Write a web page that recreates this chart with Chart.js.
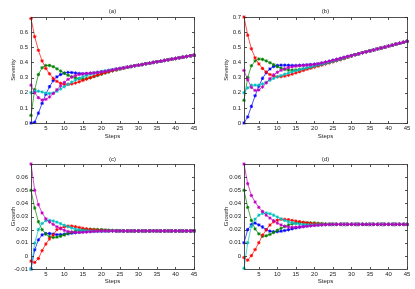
<!DOCTYPE html>
<html><head><meta charset="utf-8">
<script src="https://cdn.jsdelivr.net/npm/chart.js@4/dist/chart.umd.min.js"></script>
<style>
html,body{margin:0;padding:0;background:#fff;width:415px;height:289px;overflow:hidden}
canvas{position:absolute;display:block}
</style></head><body>
<canvas id="ca" width="207" height="145" style="left:0;top:0"></canvas>
<canvas id="cb" width="202" height="145" style="left:213px;top:0"></canvas>
<canvas id="cc" width="207" height="142" style="left:0;top:147px"></canvas>
<canvas id="cd" width="202" height="142" style="left:213px;top:147px"></canvas>
<script>
const steps = [1,2,3,4,5,6,7,8,9,10,11,12,13,14,15,16,17,18,19,20,21,22,23,24,25,26,27,28,29,30,31,32,33,34,35,36,37,38,39,40,41,42,43,44,45];
const xTicks = [5,10,15,20,25,30,35,40,45];
const yTicksA = [0,0.1,0.2,0.3,0.4,0.5,0.6];
const yTicksB = [0,0.1,0.2,0.3,0.4,0.5,0.6,0.7];
const yTicksC = [-0.01,0,0.01,0.02,0.03,0.04,0.05,0.06];
const yTicksD = [0,0.01,0.02,0.03,0.04,0.05,0.06];

// Panel (a) Severity
const redA = [0.69,0.57,0.48,0.41,0.36,0.325,0.295,0.275,0.262,0.256,
  0.255,0.258,0.264,0.272,0.281,0.29,0.299,0.308,0.317,0.325,
  0.332,0.339,0.346,0.352,0.358,0.363,0.369,0.373,0.378,0.382,
  0.386,0.391,0.395,0.4,0.404,0.408,0.413,0.417,0.422,0.426,
  0.43,0.435,0.439,0.444,0.448];
const greenA = [0.05,0.22,0.32,0.365,0.38,0.38,0.372,0.358,0.343,0.328,
  0.315,0.305,0.297,0.292,0.29,0.293,0.299,0.306,0.314,0.322,
  0.33,0.337,0.344,0.35,0.356,0.362,0.368,0.373,0.378,0.382,
  0.386,0.391,0.395,0.4,0.404,0.408,0.413,0.417,0.422,0.426,
  0.43,0.435,0.439,0.444,0.448];
const blueA = [0,0.005,0.065,0.13,0.19,0.24,0.28,0.305,0.32,0.33,
  0.334,0.333,0.33,0.327,0.325,0.326,0.328,0.33,0.333,0.337,
  0.341,0.346,0.351,0.356,0.36,0.364,0.369,0.373,0.378,0.382,
  0.386,0.391,0.395,0.4,0.404,0.408,0.413,0.417,0.422,0.426,
  0.43,0.435,0.439,0.444,0.448];
const cyanA = [0.2,0.21,0.21,0.205,0.198,0.195,0.198,0.21,0.225,0.24,
  0.255,0.27,0.283,0.295,0.305,0.314,0.322,0.329,0.335,0.34,
  0.344,0.348,0.352,0.356,0.36,0.364,0.369,0.373,0.378,0.382,
  0.386,0.391,0.395,0.4,0.404,0.408,0.413,0.417,0.422,0.426,
  0.43,0.435,0.439,0.444,0.448];
const magentaA = [0.25,0.2,0.167,0.152,0.156,0.172,0.195,0.22,0.245,0.268,
  0.288,0.303,0.313,0.32,0.324,0.327,0.329,0.331,0.334,0.337,
  0.341,0.346,0.351,0.356,0.36,0.364,0.369,0.373,0.378,0.382,
  0.386,0.391,0.395,0.4,0.404,0.408,0.413,0.417,0.422,0.426,
  0.43,0.435,0.439,0.444,0.448];

// Panel (b) Severity
const redB = [0.7,0.58,0.49,0.43,0.39,0.36,0.337,0.32,0.31,0.305,
  0.306,0.31,0.316,0.323,0.331,0.339,0.347,0.355,0.362,0.369,
  0.376,0.383,0.39,0.397,0.404,0.411,0.418,0.425,0.434,0.442,
  0.451,0.457,0.464,0.47,0.476,0.482,0.489,0.495,0.501,0.508,
  0.514,0.521,0.527,0.533,0.54];
const greenB = [0.15,0.3,0.378,0.41,0.423,0.42,0.41,0.398,0.385,0.372,
  0.362,0.354,0.35,0.349,0.35,0.353,0.357,0.362,0.368,0.374,
  0.38,0.386,0.392,0.399,0.406,0.413,0.42,0.427,0.436,0.444,
  0.451,0.457,0.464,0.47,0.476,0.482,0.489,0.495,0.501,0.508,
  0.514,0.521,0.527,0.533,0.54];
const blueB = [0,0.04,0.11,0.18,0.243,0.295,0.332,0.357,0.373,0.38,
  0.382,0.382,0.381,0.38,0.38,0.381,0.382,0.384,0.386,0.388,
  0.391,0.396,0.402,0.408,0.414,0.42,0.426,0.433,0.439,0.445,
  0.451,0.457,0.464,0.47,0.476,0.482,0.489,0.495,0.501,0.508,
  0.514,0.521,0.527,0.533,0.54];
const cyanB = [0.2,0.232,0.25,0.25,0.25,0.258,0.268,0.282,0.295,0.305,
  0.313,0.322,0.33,0.338,0.345,0.352,0.358,0.364,0.37,0.376,
  0.382,0.388,0.394,0.401,0.408,0.415,0.421,0.428,0.436,0.444,
  0.451,0.457,0.464,0.47,0.476,0.482,0.489,0.495,0.501,0.508,
  0.514,0.521,0.527,0.533,0.54];
const magentaB = [0.347,0.286,0.235,0.215,0.218,0.238,0.265,0.293,0.318,0.335,
  0.348,0.358,0.366,0.371,0.375,0.378,0.38,0.382,0.384,0.387,
  0.39,0.396,0.402,0.408,0.414,0.42,0.426,0.433,0.439,0.445,
  0.451,0.457,0.464,0.47,0.476,0.482,0.489,0.495,0.501,0.508,
  0.514,0.521,0.527,0.533,0.54];

// Panel (c) Growth
const redC = [-0.004,-0.005,-0.002,0.004,0.009,0.013,0.016,0.02,0.0212,0.0222,
  0.0227,0.0227,0.0222,0.0216,0.021,0.0205,0.0201,0.0198,0.0195,0.0193,
  0.0192,0.0191,0.019,0.019,0.019,0.019,0.019,0.019,0.019,0.019,
  0.019,0.019,0.019,0.019,0.019,0.019,0.019,0.019,0.019,0.019,
  0.019,0.019,0.019,0.019,0.019];
const greenC = [0.05,0.0365,0.026,0.02,0.0166,0.0145,0.014,0.0143,0.015,0.016,
  0.017,0.018,0.0188,0.0195,0.02,0.0202,0.0203,0.0202,0.0201,0.02,
  0.0198,0.0196,0.0194,0.0192,0.0191,0.019,0.019,0.019,0.019,0.019,
  0.019,0.019,0.019,0.019,0.019,0.019,0.019,0.019,0.019,0.019,
  0.019,0.019,0.019,0.019,0.019];
const blueC = [-0.01,0.0046,0.0122,0.016,0.017,0.017,0.0166,0.0162,0.0162,0.0165,
  0.0169,0.0173,0.0177,0.018,0.0183,0.0185,0.0187,0.0188,0.0189,0.019,
  0.019,0.019,0.019,0.019,0.019,0.019,0.019,0.019,0.019,0.019,
  0.019,0.019,0.019,0.019,0.019,0.019,0.019,0.019,0.019,0.019,
  0.019,0.019,0.019,0.019,0.019];
const cyanC = [-0.01,0.0097,0.02,0.0247,0.0268,0.027,0.0266,0.0257,0.0245,0.0233,
  0.0222,0.0212,0.0204,0.0198,0.0194,0.0191,0.0189,0.0188,0.0188,0.0188,
  0.0189,0.019,0.019,0.019,0.019,0.019,0.019,0.019,0.019,0.019,
  0.019,0.019,0.019,0.019,0.019,0.019,0.019,0.019,0.019,0.019,
  0.019,0.019,0.019,0.019,0.019];
const magentaC = [0.07,0.05,0.039,0.0327,0.0283,0.0258,0.024,0.0222,0.0207,0.0195,
  0.0186,0.0181,0.0179,0.0179,0.018,0.0182,0.0184,0.0186,0.0188,0.0189,
  0.019,0.019,0.019,0.019,0.019,0.019,0.019,0.019,0.019,0.019,
  0.019,0.019,0.019,0.019,0.019,0.019,0.019,0.019,0.019,0.019,
  0.019,0.019,0.019,0.019,0.019];

// Panel (d) Growth
const redD = [-0.0013,-0.0033,0.0002,0.0048,0.01,0.0158,0.0198,0.0235,0.026,0.0272,
  0.0278,0.0278,0.0275,0.027,0.0265,0.026,0.0255,0.0251,0.0248,0.0245,
  0.0243,0.0242,0.0241,0.024,0.024,0.024,0.024,0.024,0.024,0.024,
  0.024,0.024,0.024,0.024,0.024,0.024,0.024,0.024,0.024,0.024,
  0.024,0.024,0.024,0.024,0.024];
const greenD = [0.05,0.037,0.027,0.0205,0.0168,0.015,0.0153,0.0163,0.0178,0.0195,
  0.021,0.0224,0.0235,0.0244,0.025,0.0253,0.0254,0.0253,0.0251,0.025,
  0.0248,0.0246,0.0244,0.0242,0.0241,0.024,0.024,0.024,0.024,0.024,
  0.024,0.024,0.024,0.024,0.024,0.024,0.024,0.024,0.024,0.024,
  0.024,0.024,0.024,0.024,0.024];
const blueD = [0.01,0.02,0.0238,0.025,0.0236,0.022,0.02,0.0188,0.0184,0.0185,
  0.0188,0.0193,0.0199,0.0206,0.0213,0.0219,0.0224,0.0228,0.0231,0.0234,
  0.0236,0.0238,0.0239,0.024,0.024,0.024,0.024,0.024,0.024,0.024,
  0.024,0.024,0.024,0.024,0.024,0.024,0.024,0.024,0.024,0.024,
  0.024,0.024,0.024,0.024,0.024];
const cyanD = [-0.0095,0.01,0.0225,0.028,0.031,0.0325,0.0327,0.0321,0.031,0.0296,
  0.0282,0.027,0.026,0.0252,0.0246,0.0242,0.0239,0.0237,0.0236,0.0236,
  0.0237,0.0238,0.0239,0.024,0.024,0.024,0.024,0.024,0.024,0.024,
  0.024,0.024,0.024,0.024,0.024,0.024,0.024,0.024,0.024,0.024,
  0.024,0.024,0.024,0.024,0.024];
const magentaD = [0.07,0.055,0.046,0.041,0.037,0.0338,0.031,0.0288,0.0268,0.025,
  0.0236,0.0226,0.022,0.0218,0.0218,0.022,0.0223,0.0226,0.0229,0.0232,
  0.0234,0.0236,0.0238,0.0239,0.024,0.024,0.024,0.024,0.024,0.024,
  0.024,0.024,0.024,0.024,0.024,0.024,0.024,0.024,0.024,0.024,
  0.024,0.024,0.024,0.024,0.024];

const COLORS = {red:'#ff0000', green:'#008000', blue:'#0000ff', cyan:'#00bfbf', magenta:'#bf00bf'};
const DRAW_ORDER = {blue:4, green:3, red:2, cyan:1, magenta:0};
const TEXT = '#1a1a1a';
Chart.defaults.font.family = '"Liberation Sans", Arial, Helvetica, sans-serif';
Chart.defaults.font.size = 6;
Chart.defaults.color = TEXT;

const boxTicks = {
  id: 'boxTicks',
  afterDraw(chart, args, opts) {
    const {ctx, chartArea: a, scales: {x, y}} = chart;
    ctx.save();
    ctx.strokeStyle = '#262626';
    ctx.lineWidth = 0.8;
    const L = Math.round(a.left) + 0.5, R = Math.round(a.right) + 0.5;
    const T = Math.round(a.top) + 0.5, B = Math.round(a.bottom) + 0.5;
    ctx.strokeRect(L, T, R - L, B - T);
    ctx.beginPath();
    x.ticks.forEach(t => {
      const px = Math.round(x.getPixelForValue(t.value)) + 0.5;
      ctx.moveTo(px, B); ctx.lineTo(px, B - 2.5);
      ctx.moveTo(px, T); ctx.lineTo(px, T + 2.5);
    });
    y.ticks.forEach(t => {
      const py = Math.round(y.getPixelForValue(t.value)) + 0.5;
      ctx.moveTo(L, py); ctx.lineTo(L + 2.5, py);
      ctx.moveTo(R, py); ctx.lineTo(R - 2.5, py);
    });
    ctx.stroke();
    ctx.fillStyle = TEXT;
    ctx.font = '6px "Liberation Sans", Arial, sans-serif';
    ctx.textAlign = 'center';
    ctx.textBaseline = 'middle';
    ctx.fillText(opts.text, (a.left + a.right) / 2, a.top - opts.titleGap);
    ctx.restore();
  }
};

function ds(name, data) {
  return {
    label: name, data: data, order: DRAW_ORDER[name],
    borderColor: COLORS[name], backgroundColor: COLORS[name],
    pointBackgroundColor: COLORS[name], pointBorderColor: COLORS[name],
    borderWidth: 0.7, pointStyle: 'star', pointRadius: 1.7, pointBorderWidth: 0.9,
    tension: 0, clip: false
  };
}

function makeChart(id, cfg) {
  new Chart(document.getElementById(id), {
    type: 'line',
    data: {
      labels: steps,
      datasets: [ds('red', cfg.r), ds('green', cfg.g), ds('blue', cfg.b), ds('cyan', cfg.c), ds('magenta', cfg.m)]
    },
    options: {
      responsive: false, animation: false,
      layout: {padding: {top: 17, right: cfg.padRight, bottom: 0, left: 0}},
      plugins: {legend: {display: false}, tooltip: {enabled: false}, boxTicks: {text: cfg.title, titleGap: cfg.titleGap}},
      scales: {
        x: {
          type: 'linear', min: 1, max: 45,
          afterBuildTicks: s => { s.ticks = xTicks.map(v => ({value: v})); },
          afterFit: s => { s.height = cfg.xHeight; },
          ticks: {padding: 2, maxRotation: 0, autoSkip: false, callback: v => String(v)},
          grid: {display: false, drawTicks: false}, border: {display: false},
          title: {display: true, text: 'Steps', padding: {top: 0, bottom: cfg.xTitlePad}}
        },
        y: {
          type: 'linear', min: cfg.ymin, max: cfg.ymax,
          afterBuildTicks: s => { s.ticks = cfg.yt.map(v => ({value: v})); },
          afterFit: s => { s.width = 31; },
          ticks: {padding: 3, autoSkip: false, callback: v => String(v)},
          grid: {display: false, drawTicks: false}, border: {display: false},
          title: {display: true, text: cfg.ylabel, padding: {top: 9.4, bottom: 0}}
        }
      }
    },
    plugins: [boxTicks]
  });
}

makeChart('ca', {r: redA, g: greenA, b: blueA, c: cyanA, m: magentaA, ymin: 0, ymax: 0.7, yt: yTicksA,
  ylabel: 'Severity', title: '(a)', padRight: 13, xHeight: 22, xTitlePad: 5.4, titleGap: 6});
makeChart('cb', {r: redB, g: greenB, b: blueB, c: cyanB, m: magentaB, ymin: 0, ymax: 0.7, yt: yTicksB,
  ylabel: 'Severity', title: '(b)', padRight: 8, xHeight: 22, xTitlePad: 5.4, titleGap: 6});
makeChart('cc', {r: redC, g: greenC, b: blueC, c: cyanC, m: magentaC, ymin: -0.01, ymax: 0.07, yt: yTicksC,
  ylabel: 'Growth', title: '(c)', padRight: 13, xHeight: 20, xTitlePad: 4.4, titleGap: 5});
makeChart('cd', {r: redD, g: greenD, b: blueD, c: cyanD, m: magentaD, ymin: -0.01, ymax: 0.07, yt: yTicksD,
  ylabel: 'Growth', title: '(d)', padRight: 8, xHeight: 20, xTitlePad: 4.4, titleGap: 5});
</script>
</body></html>
